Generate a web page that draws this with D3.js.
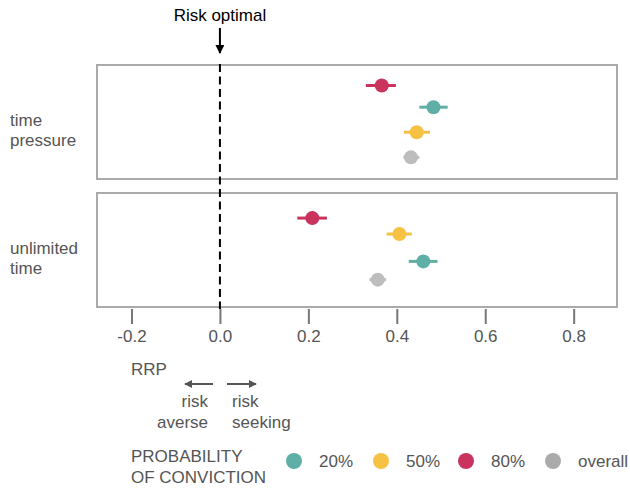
<!DOCTYPE html>
<html>
<head>
<meta charset="utf-8">
<script src="https://cdn.jsdelivr.net/npm/d3@7"></script>
<style>
  body { margin: 0; background: #fff; }
  text { font-family: "Liberation Sans", Arial, Helvetica, sans-serif; }
</style>
</head>
<body>
<svg id="chart" width="630" height="489"></svg>
<script>
'use strict';

// conditions (panels) and probability groups
var panels = ["time pressure", "unlimited time"];
var panelLabels = [["time", "pressure"], ["unlimited", "time"]];
var groups = ["20%", "50%", "80%", "overall"];
var colors = ["#5fafa6", "#f5c244", "#c9335e", "#bdbdbd"];

// RRP estimates with error bars, order follows groups
var timePressureMean = [0.483, 0.445, 0.366, 0.432];
var timePressureLow  = [0.451, 0.416, 0.330, 0.415];
var timePressureHigh = [0.515, 0.475, 0.398, 0.451];
var unlimitedMean = [0.460, 0.406, 0.209, 0.357];
var unlimitedLow  = [0.427, 0.377, 0.175, 0.338];
var unlimitedHigh = [0.492, 0.434, 0.242, 0.376];

// vertical jitter inside each panel (0 = top, 1 = bottom)
var timePressureRow = [0.37, 0.59, 0.18, 0.81];
var unlimitedRow    = [0.60, 0.36, 0.22, 0.76];

var xTicks = [-0.2, 0.0, 0.2, 0.4, 0.6, 0.8];

var svg = d3.select("#chart");
var grey = "#555";
var fs = 17;

var x = d3.scaleLinear().domain([-0.278, 0.898]).range([97, 617]);

var panelTops = [65, 193];
var panelHeight = 114;

var panelData = [
    {mean: timePressureMean, low: timePressureLow, high: timePressureHigh, row: timePressureRow},
    {mean: unlimitedMean, low: unlimitedLow, high: unlimitedHigh, row: unlimitedRow}
];

panels.forEach((p, i) => {
    var top = panelTops[i];
    var y = d3.scaleLinear().domain([0, 1]).range([top, top + panelHeight]);

    svg.append("rect")
       .attr("x", x.range()[0])
       .attr("y", top)
       .attr("width", x.range()[1] - x.range()[0])
       .attr("height", panelHeight)
       .attr("fill", "none")
       .attr("stroke", "#aaa")
       .attr("stroke-width", 2);

    // panel label
    svg.append("text")
       .attr("x", 10)
       .attr("y", top + 61)
       .attr("fill", grey)
       .attr("font-size", fs)
       .selectAll("tspan")
       .data(panelLabels[i])
       .enter()
       .append("tspan")
       .attr("x", 10)
       .attr("dy", (d, j) => j == 0 ? 0 : 20)
       .text(d => d);

    var d = panelData[i];
    var pts = groups.map((g, k) => ({g: g, mean: d.mean[k], low: d.low[k], high: d.high[k], row: d.row[k], color: colors[k]}));

    var g = svg.append("g");
    g.selectAll("line.err")
     .data(pts)
     .enter()
     .append("line")
     .attr("x1", e => x(e.low))
     .attr("x2", e => x(e.high))
     .attr("y1", e => y(e.row))
     .attr("y2", e => y(e.row))
     .attr("stroke", e => e.color)
     .attr("stroke-width", 3);

    g.selectAll("circle")
     .data(pts)
     .enter()
     .append("circle")
     .attr("cx", e => x(e.mean))
     .attr("cy", e => y(e.row))
     .attr("r", 7)
     .attr("fill", e => e.color);
});

// risk optimal dashed line
svg.append("line")
   .attr("x1", x(0)).attr("x2", x(0))
   .attr("y1", 64).attr("y2", 309)
   .attr("stroke", "#000")
   .attr("stroke-width", 2)
   .attr("stroke-dasharray", "8,4.5");

// x axis
var axis = svg.append("g")
              .attr("transform", "translate(0,309)")
              .call(d3.axisBottom(x).tickValues(xTicks).tickFormat(d3.format(".1f")).tickSize(15).tickPadding(6));
axis.select(".domain").remove();
axis.selectAll(".tick line").attr("stroke", "#777").attr("stroke-width", 2);
axis.selectAll(".tick text")
    .attr("fill", grey)
    .attr("font-size", fs)
    .attr("font-family", "\"Liberation Sans\", Arial, sans-serif")
    .text(d => d3.format(".1f")(d).replace("−", "-"));

// arrow markers
var defs = svg.append("defs");
function marker(id, color, w, h) {
    defs.append("marker")
        .attr("id", id)
        .attr("viewBox", "0 0 10 10")
        .attr("refX", 9).attr("refY", 5)
        .attr("markerWidth", w).attr("markerHeight", h)
        .attr("markerUnits", "userSpaceOnUse")
        .attr("orient", "auto")
        .append("path")
        .attr("d", "M0,0 L10,5 L0,10 Z")
        .attr("fill", color);
}
marker("arrBlack", "#000", 9, 9);
marker("arrGrey", grey, 8, 8);

// top annotation
svg.append("text")
   .attr("x", x(0))
   .attr("y", 21)
   .attr("text-anchor", "middle")
   .attr("font-size", fs)
   .attr("fill", "#000")
   .text("Risk optimal");
svg.append("line")
   .attr("x1", x(0)).attr("x2", x(0))
   .attr("y1", 28).attr("y2", 53)
   .attr("stroke", "#000")
   .attr("stroke-width", 2)
   .attr("marker-end", "url(#arrBlack)");

// RRP direction hint
svg.append("text").attr("x", 131).attr("y", 375).attr("fill", grey).attr("font-size", fs).text("RRP");
svg.append("line")
   .attr("x1", 213).attr("x2", 185).attr("y1", 384).attr("y2", 384)
   .attr("stroke", grey).attr("stroke-width", 2).attr("marker-end", "url(#arrGrey)");
svg.append("line")
   .attr("x1", 227).attr("x2", 256).attr("y1", 384).attr("y2", 384)
   .attr("stroke", grey).attr("stroke-width", 2).attr("marker-end", "url(#arrGrey)");

var hintLeft = svg.append("text").attr("fill", grey).attr("font-size", fs).attr("text-anchor", "end");
hintLeft.append("tspan").attr("x", 208).attr("y", 407).text("risk");
hintLeft.append("tspan").attr("x", 208).attr("y", 428).text("averse");
var hintRight = svg.append("text").attr("fill", grey).attr("font-size", fs);
hintRight.append("tspan").attr("x", 232).attr("y", 407).text("risk");
hintRight.append("tspan").attr("x", 232).attr("y", 428).text("seeking");

// legend
var legTitle = svg.append("text").attr("fill", grey).attr("font-size", fs);
legTitle.append("tspan").attr("x", 131).attr("y", 462).text("PROBABILITY");
legTitle.append("tspan").attr("x", 131).attr("y", 483).text("OF CONVICTION");

var legendX = [294, 381, 466, 553];
var legendColors = ["#5fafa6", "#f5c244", "#c9335e", "#aaaaaa"];
var leg = svg.selectAll("g.legend")
             .data(groups)
             .enter()
             .append("g")
             .attr("transform", (d, i) => "translate(" + legendX[i] + ",461)");
leg.append("circle").attr("r", 8).attr("fill", (d, i) => legendColors[i]);
leg.append("text")
   .attr("x", 25)
   .attr("y", 6)
   .attr("fill", grey)
   .attr("font-size", fs)
   .text(d => d);
</script>
</body>
</html>
